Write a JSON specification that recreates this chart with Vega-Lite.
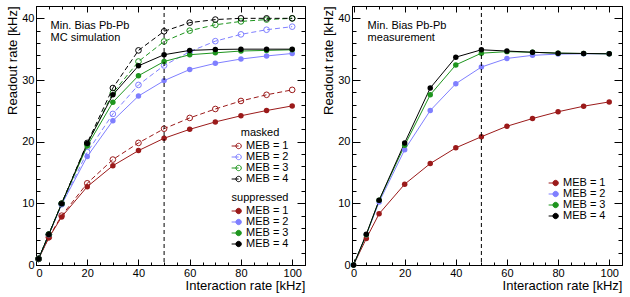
{
"$schema": "https://vega.github.io/schema/vega-lite/v6.json",
"autosize": {"type": "pad"},
"padding": {"left": 6, "top": 5, "right": 5, "bottom": 4},
"spacing": 16,
"resolve": {"scale": {"color": "independent", "stroke": "independent"}, "legend": {"color": "independent", "stroke": "independent"}},
"datasets": {
"sim": [
{"rate":1,"readout":1.0,"masked":"MEB = 1"},{"rate":5,"readout":4.5,"masked":"MEB = 1"},{"rate":10,"readout":8.0,"masked":"MEB = 1"},{"rate":20,"readout":13.25,"masked":"MEB = 1"},{"rate":30,"readout":17.1,"masked":"MEB = 1"},{"rate":40,"readout":19.8,"masked":"MEB = 1"},{"rate":50,"readout":22.1,"masked":"MEB = 1"},{"rate":60,"readout":23.85,"masked":"MEB = 1"},{"rate":70,"readout":25.3,"masked":"MEB = 1"},{"rate":80,"readout":26.6,"masked":"MEB = 1"},{"rate":90,"readout":27.6,"masked":"MEB = 1"},{"rate":100,"readout":28.4,"masked":"MEB = 1"},
{"rate":1,"readout":1.0,"masked":"MEB = 2"},{"rate":5,"readout":4.9,"masked":"MEB = 2"},{"rate":10,"readout":9.85,"masked":"MEB = 2"},{"rate":20,"readout":18.3,"masked":"MEB = 2"},{"rate":30,"readout":24.5,"masked":"MEB = 2"},{"rate":40,"readout":29.2,"masked":"MEB = 2"},{"rate":50,"readout":32.35,"masked":"MEB = 2"},{"rate":60,"readout":34.6,"masked":"MEB = 2"},{"rate":70,"readout":36.3,"masked":"MEB = 2"},{"rate":80,"readout":37.4,"masked":"MEB = 2"},{"rate":90,"readout":38.15,"masked":"MEB = 2"},{"rate":100,"readout":38.65,"masked":"MEB = 2"},
{"rate":1,"readout":1.0,"masked":"MEB = 3"},{"rate":5,"readout":4.95,"masked":"MEB = 3"},{"rate":10,"readout":9.95,"masked":"MEB = 3"},{"rate":20,"readout":19.6,"masked":"MEB = 3"},{"rate":30,"readout":27.9,"masked":"MEB = 3"},{"rate":40,"readout":33.0,"masked":"MEB = 3"},{"rate":50,"readout":36.25,"masked":"MEB = 3"},{"rate":60,"readout":38.0,"masked":"MEB = 3"},{"rate":70,"readout":38.95,"masked":"MEB = 3"},{"rate":80,"readout":39.5,"masked":"MEB = 3"},{"rate":90,"readout":39.8,"masked":"MEB = 3"},{"rate":100,"readout":40.0,"masked":"MEB = 3"},
{"rate":1,"readout":1.0,"masked":"MEB = 4"},{"rate":5,"readout":4.95,"masked":"MEB = 4"},{"rate":10,"readout":9.95,"masked":"MEB = 4"},{"rate":20,"readout":19.8,"masked":"MEB = 4"},{"rate":30,"readout":28.7,"masked":"MEB = 4"},{"rate":40,"readout":34.8,"masked":"MEB = 4"},{"rate":50,"readout":37.9,"masked":"MEB = 4"},{"rate":60,"readout":39.3,"masked":"MEB = 4"},{"rate":70,"readout":39.8,"masked":"MEB = 4"},{"rate":80,"readout":40.0,"masked":"MEB = 4"},{"rate":90,"readout":40.0,"masked":"MEB = 4"},{"rate":100,"readout":40.0,"masked":"MEB = 4"},
{"rate":1,"readout":1.0,"suppressed":"MEB = 1"},{"rate":5,"readout":4.4,"suppressed":"MEB = 1"},{"rate":10,"readout":7.8,"suppressed":"MEB = 1"},{"rate":20,"readout":12.7,"suppressed":"MEB = 1"},{"rate":30,"readout":16.1,"suppressed":"MEB = 1"},{"rate":40,"readout":18.55,"suppressed":"MEB = 1"},{"rate":50,"readout":20.55,"suppressed":"MEB = 1"},{"rate":60,"readout":22.0,"suppressed":"MEB = 1"},{"rate":70,"readout":23.2,"suppressed":"MEB = 1"},{"rate":80,"readout":24.2,"suppressed":"MEB = 1"},{"rate":90,"readout":25.05,"suppressed":"MEB = 1"},{"rate":100,"readout":25.8,"suppressed":"MEB = 1"},
{"rate":1,"readout":1.0,"suppressed":"MEB = 2"},{"rate":5,"readout":4.9,"suppressed":"MEB = 2"},{"rate":10,"readout":9.8,"suppressed":"MEB = 2"},{"rate":20,"readout":17.6,"suppressed":"MEB = 2"},{"rate":30,"readout":23.4,"suppressed":"MEB = 2"},{"rate":40,"readout":27.4,"suppressed":"MEB = 2"},{"rate":50,"readout":29.9,"suppressed":"MEB = 2"},{"rate":60,"readout":31.7,"suppressed":"MEB = 2"},{"rate":70,"readout":32.7,"suppressed":"MEB = 2"},{"rate":80,"readout":33.4,"suppressed":"MEB = 2"},{"rate":90,"readout":33.9,"suppressed":"MEB = 2"},{"rate":100,"readout":34.3,"suppressed":"MEB = 2"},
{"rate":1,"readout":1.0,"suppressed":"MEB = 3"},{"rate":5,"readout":4.95,"suppressed":"MEB = 3"},{"rate":10,"readout":9.95,"suppressed":"MEB = 3"},{"rate":20,"readout":19.3,"suppressed":"MEB = 3"},{"rate":30,"readout":26.4,"suppressed":"MEB = 3"},{"rate":40,"readout":30.7,"suppressed":"MEB = 3"},{"rate":50,"readout":33.0,"suppressed":"MEB = 3"},{"rate":60,"readout":34.1,"suppressed":"MEB = 3"},{"rate":70,"readout":34.4,"suppressed":"MEB = 3"},{"rate":80,"readout":34.7,"suppressed":"MEB = 3"},{"rate":90,"readout":34.8,"suppressed":"MEB = 3"},{"rate":100,"readout":34.9,"suppressed":"MEB = 3"},
{"rate":1,"readout":1.0,"suppressed":"MEB = 4"},{"rate":5,"readout":4.95,"suppressed":"MEB = 4"},{"rate":10,"readout":9.95,"suppressed":"MEB = 4"},{"rate":20,"readout":19.7,"suppressed":"MEB = 4"},{"rate":30,"readout":27.6,"suppressed":"MEB = 4"},{"rate":40,"readout":32.3,"suppressed":"MEB = 4"},{"rate":50,"readout":34.1,"suppressed":"MEB = 4"},{"rate":60,"readout":34.8,"suppressed":"MEB = 4"},{"rate":70,"readout":34.95,"suppressed":"MEB = 4"},{"rate":80,"readout":35.0,"suppressed":"MEB = 4"},{"rate":90,"readout":35.0,"suppressed":"MEB = 4"},{"rate":100,"readout":35.0,"suppressed":"MEB = 4"}
],
"meas": [
{"rate":0,"readout":0,"MEB":"MEB = 1"},{"rate":5,"readout":4.3,"MEB":"MEB = 1"},{"rate":10,"readout":8.3,"MEB":"MEB = 1"},{"rate":20,"readout":13.1,"MEB":"MEB = 1"},{"rate":30,"readout":16.45,"MEB":"MEB = 1"},{"rate":40,"readout":19.0,"MEB":"MEB = 1"},{"rate":50,"readout":20.8,"MEB":"MEB = 1"},{"rate":60,"readout":22.5,"MEB":"MEB = 1"},{"rate":70,"readout":23.75,"MEB":"MEB = 1"},{"rate":80,"readout":24.85,"MEB":"MEB = 1"},{"rate":90,"readout":25.75,"MEB":"MEB = 1"},{"rate":100,"readout":26.45,"MEB":"MEB = 1"},
{"rate":0,"readout":0,"MEB":"MEB = 2"},{"rate":5,"readout":4.9,"MEB":"MEB = 2"},{"rate":10,"readout":10.2,"MEB":"MEB = 2"},{"rate":20,"readout":18.7,"MEB":"MEB = 2"},{"rate":30,"readout":25.05,"MEB":"MEB = 2"},{"rate":40,"readout":29.4,"MEB":"MEB = 2"},{"rate":50,"readout":32.1,"MEB":"MEB = 2"},{"rate":60,"readout":33.5,"MEB":"MEB = 2"},{"rate":70,"readout":34.0,"MEB":"MEB = 2"},{"rate":80,"readout":34.2,"MEB":"MEB = 2"},{"rate":90,"readout":34.25,"MEB":"MEB = 2"},{"rate":100,"readout":34.25,"MEB":"MEB = 2"},
{"rate":0,"readout":0,"MEB":"MEB = 3"},{"rate":5,"readout":4.9,"MEB":"MEB = 3"},{"rate":10,"readout":10.5,"MEB":"MEB = 3"},{"rate":20,"readout":19.4,"MEB":"MEB = 3"},{"rate":30,"readout":27.6,"MEB":"MEB = 3"},{"rate":40,"readout":32.45,"MEB":"MEB = 3"},{"rate":50,"readout":34.35,"MEB":"MEB = 3"},{"rate":60,"readout":34.6,"MEB":"MEB = 3"},{"rate":70,"readout":34.5,"MEB":"MEB = 3"},{"rate":80,"readout":34.35,"MEB":"MEB = 3"},{"rate":90,"readout":34.3,"MEB":"MEB = 3"},{"rate":100,"readout":34.25,"MEB":"MEB = 3"},
{"rate":0,"readout":0,"MEB":"MEB = 4"},{"rate":5,"readout":5.0,"MEB":"MEB = 4"},{"rate":10,"readout":10.5,"MEB":"MEB = 4"},{"rate":20,"readout":19.8,"MEB":"MEB = 4"},{"rate":30,"readout":28.7,"MEB":"MEB = 4"},{"rate":40,"readout":33.7,"MEB":"MEB = 4"},{"rate":50,"readout":34.9,"MEB":"MEB = 4"},{"rate":60,"readout":34.7,"MEB":"MEB = 4"},{"rate":70,"readout":34.5,"MEB":"MEB = 4"},{"rate":80,"readout":34.35,"MEB":"MEB = 4"},{"rate":90,"readout":34.3,"MEB":"MEB = 4"},{"rate":100,"readout":34.25,"MEB":"MEB = 4"}
]
},
"hconcat": [
{
"width": 269, "height": 259,
"data": {"name": "sim"},
"resolve": {"axis": {"x": "independent", "y": "independent"}},
"layer": [
{
"transform": [{"filter": "isValid(datum.masked)"}],
"mark": {"type": "line", "strokeDash": [5, 3], "strokeWidth": 1},
"encoding": {
"x": {"field": "rate", "type": "quantitative", "scale": {"domain": [0, 105], "nice": false, "zero": false},
 "axis": {"orient": "bottom", "title": "Interaction rate [kHz]", "titleAnchor": "end", "values": [0,5,10,15,20,25,30,35,40,45,50,55,60,65,70,75,80,85,90,95,100,105], "labelExpr": "datum.value % 20 === 0 ? datum.label : ''", "tickSize": {"condition": {"test": "datum.value % 20 === 0", "value": -6}, "value": -3}, "labelPadding": 8, "titlePadding": 1}},
"y": {"field": "readout", "type": "quantitative", "scale": {"domain": [0, 42], "nice": false},
 "axis": {"orient": "left", "title": "Readout rate [kHz]", "titleAnchor": "end", "values": [0,2,4,6,8,10,12,14,16,18,20,22,24,26,28,30,32,34,36,38,40,42], "labelExpr": "datum.value % 10 === 0 ? datum.label : ''", "tickSize": {"condition": {"test": "datum.value % 10 === 0", "value": -8}, "value": -4}, "labelPadding": 10, "titlePadding": 2}},
"stroke": {"field": "masked", "type": "nominal", "scale": {"domain": ["MEB = 1","MEB = 2","MEB = 3","MEB = 4"], "range": ["#9b1a1a","#7f7fff","#1e951e","#000000"]},
 "legend": {"title": "masked", "orient": "none", "legendX": 195, "legendY": 121, "titleAnchor": "middle", "symbolType": "M-1,0L0.3,0M-0.2,0A0.5,0.5,0,1,0,0.8,0A0.5,0.5,0,1,0,-0.2,0Z", "symbolSize": 115, "symbolFillColor": "transparent"}}
}
},
{
"transform": [{"filter": "isValid(datum.masked)"}],
"mark": {"type": "point", "filled": false, "size": 32, "strokeWidth": 1, "opacity": 1},
"encoding": {
"x": {"field": "rate", "type": "quantitative", "axis": {"orient": "top", "title": null, "labels": false, "domain": false, "values": [0,5,10,15,20,25,30,35,40,45,50,55,60,65,70,75,80,85,90,95,100,105], "tickSize": {"condition": {"test": "datum.value % 20 === 0", "value": -6}, "value": -3}}},
"y": {"field": "readout", "type": "quantitative", "axis": {"orient": "right", "title": null, "labels": false, "domain": false, "values": [0,2,4,6,8,10,12,14,16,18,20,22,24,26,28,30,32,34,36,38,40,42], "tickSize": {"condition": {"test": "datum.value % 10 === 0", "value": -8}, "value": -4}}},
"stroke": {"field": "masked", "type": "nominal"}
}
},
{
"transform": [{"filter": "isValid(datum.suppressed)"}],
"mark": {"type": "line", "strokeWidth": 1},
"encoding": {
"x": {"field": "rate", "type": "quantitative", "axis": null},
"y": {"field": "readout", "type": "quantitative", "axis": null},
"color": {"field": "suppressed", "type": "nominal", "scale": {"range": ["#9b1a1a","#7f7fff","#1e951e","#000000"]},
 "legend": {"title": "suppressed", "orient": "none", "legendX": 195, "legendY": 186, "titleAnchor": "middle", "symbolType": "M-1,0L0.3,0M-0.2,0A0.5,0.5,0,1,0,0.8,0A0.5,0.5,0,1,0,-0.2,0Z", "symbolSize": 115}}
}
},
{
"transform": [{"filter": "isValid(datum.suppressed)"}],
"mark": {"type": "point", "filled": true, "size": 30, "opacity": 1},
"encoding": {
"x": {"field": "rate", "type": "quantitative", "axis": null},
"y": {"field": "readout", "type": "quantitative", "axis": null},
"color": {"field": "suppressed", "type": "nominal"}
}
},
{
"data": {"values": [{}]},
"mark": {"type": "rule", "strokeDash": [4, 3], "color": "black", "strokeWidth": 1},
"encoding": {"x": {"datum": 50, "type": "quantitative", "axis": null}}
},
{
"data": {"values": [{}]},
"mark": {"type": "text", "text": ["Min. Bias Pb-Pb", "MC simulation"], "align": "left", "baseline": "alphabetic", "fontSize": 11, "lineHeight": 12, "font": "Liberation Sans", "color": "black"},
"encoding": {"x": {"datum": 5.7, "type": "quantitative", "axis": null}, "y": {"datum": 38.3, "type": "quantitative", "axis": null}}
}
]
},
{
"width": 270, "height": 259,
"data": {"name": "meas"},
"resolve": {"axis": {"x": "independent", "y": "independent"}},
"layer": [
{
"mark": {"type": "line", "strokeWidth": 1},
"encoding": {
"x": {"field": "rate", "type": "quantitative", "scale": {"domain": [-0.6, 105], "nice": false, "zero": false},
 "axis": {"orient": "bottom", "title": "Interaction rate [kHz]", "titleAnchor": "end", "values": [0,5,10,15,20,25,30,35,40,45,50,55,60,65,70,75,80,85,90,95,100,105], "labelExpr": "datum.value % 20 === 0 ? datum.label : ''", "tickSize": {"condition": {"test": "datum.value % 20 === 0", "value": -6}, "value": -3}, "labelPadding": 8, "titlePadding": 1}},
"y": {"field": "readout", "type": "quantitative", "scale": {"domain": [0, 42], "nice": false},
 "axis": {"orient": "left", "title": "Readout rate [kHz]", "titleAnchor": "end", "values": [0,2,4,6,8,10,12,14,16,18,20,22,24,26,28,30,32,34,36,38,40,42], "labelExpr": "datum.value % 10 === 0 ? datum.label : ''", "tickSize": {"condition": {"test": "datum.value % 10 === 0", "value": -8}, "value": -4}, "labelPadding": 10, "titlePadding": 2}},
"color": {"field": "MEB", "type": "nominal", "scale": {"domain": ["MEB = 1","MEB = 2","MEB = 3","MEB = 4"], "range": ["#9b1a1a","#7f7fff","#1e951e","#000000"]},
 "legend": {"title": null, "orient": "none", "legendX": 196, "legendY": 171, "symbolType": "M-1,0L0.3,0M-0.2,0A0.5,0.5,0,1,0,0.8,0A0.5,0.5,0,1,0,-0.2,0Z", "symbolSize": 115}}
}
},
{
"mark": {"type": "point", "filled": true, "size": 30, "opacity": 1},
"encoding": {
"x": {"field": "rate", "type": "quantitative", "axis": {"orient": "top", "title": null, "labels": false, "domain": false, "values": [0,5,10,15,20,25,30,35,40,45,50,55,60,65,70,75,80,85,90,95,100,105], "tickSize": {"condition": {"test": "datum.value % 20 === 0", "value": -6}, "value": -3}}},
"y": {"field": "readout", "type": "quantitative", "axis": {"orient": "right", "title": null, "labels": false, "domain": false, "values": [0,2,4,6,8,10,12,14,16,18,20,22,24,26,28,30,32,34,36,38,40,42], "tickSize": {"condition": {"test": "datum.value % 10 === 0", "value": -8}, "value": -4}}},
"color": {"field": "MEB", "type": "nominal"}
}
},
{
"data": {"values": [{}]},
"mark": {"type": "rule", "strokeDash": [4, 3], "color": "black", "strokeWidth": 1},
"encoding": {"x": {"datum": 50, "type": "quantitative", "axis": null}}
},
{
"data": {"values": [{}]},
"mark": {"type": "text", "text": ["Min. Bias Pb-Pb", "measurement"], "align": "left", "baseline": "alphabetic", "fontSize": 11, "lineHeight": 12, "font": "Liberation Sans", "color": "black"},
"encoding": {"x": {"datum": 5.5, "type": "quantitative", "axis": null}, "y": {"datum": 38.3, "type": "quantitative", "axis": null}}
}
]
}
],
"config": {
"view": {"stroke": "black", "strokeWidth": 1},
"axis": {"grid": false, "domainColor": "black", "tickColor": "black", "labelColor": "black", "titleColor": "black", "labelFont": "Liberation Sans", "titleFont": "Liberation Sans", "labelFontSize": 11, "titleFontSize": 13, "titleFontWeight": "normal", "domainWidth": 1, "tickWidth": 1},
"legend": {"labelFont": "Liberation Sans", "labelFontSize": 11, "labelColor": "black", "titleFont": "Liberation Sans", "titleFontSize": 11, "titleFontWeight": "normal", "titleColor": "black", "rowPadding": 0, "labelOffset": 3, "symbolStrokeWidth": 1, "padding": 0, "titlePadding": 2}
}
}
